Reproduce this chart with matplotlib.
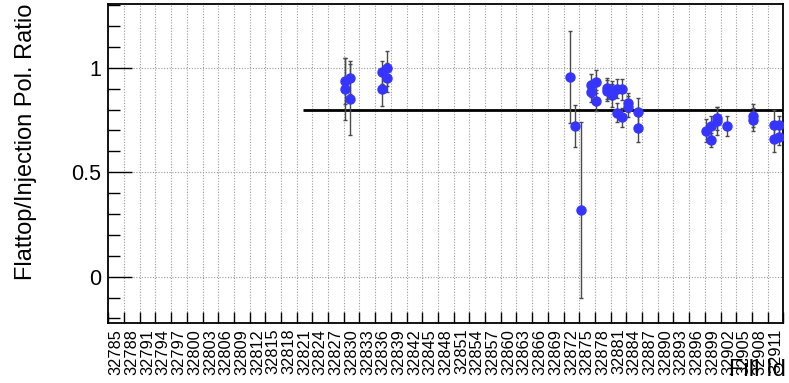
import numpy as np
import matplotlib
matplotlib.use("Agg")
import matplotlib.pyplot as plt

plt.rcParams['font.family'] = ['Liberation Sans', 'DejaVu Sans']

# fill numbers shown on the x axis (one label per bin of 3 fills)
fill_labels = list(range(32785, 32912, 3))

# measured ratio points
fills = [32829, 32829, 32830, 32830, 32836, 32836, 32837, 32837,
         32872, 32873, 32874, 32876, 32876, 32877, 32877, 32879, 32879,
         32880, 32880, 32881, 32881, 32882, 32882, 32883, 32883, 32885, 32885,
         32898, 32899, 32899, 32900, 32900, 32902, 32907, 32907,
         32911, 32911, 32912, 32912]
ratio = [0.938, 0.898, 0.952, 0.850, 0.979, 0.898, 0.997, 0.952,
         0.955, 0.721, 0.318, 0.917, 0.885, 0.932, 0.842, 0.901, 0.890,
         0.893, 0.869, 0.900, 0.785, 0.897, 0.763, 0.833, 0.813, 0.788, 0.710,
         0.699, 0.721, 0.654, 0.758, 0.745, 0.722, 0.769, 0.750,
         0.726, 0.657, 0.726, 0.670]
ratio_err = [0.11, 0.15, 0.08, 0.17, 0.055, 0.08, 0.085, 0.07,
             0.22, 0.10, 0.42, 0.055, 0.05, 0.055, 0.05, 0.05, 0.05,
             0.045, 0.055, 0.045, 0.045, 0.05, 0.045, 0.045, 0.05, 0.065, 0.065,
             0.055, 0.05, 0.035, 0.055, 0.065, 0.048, 0.055, 0.055,
             0.07, 0.06, 0.045, 0.04]

# average ratio line
avg_ratio = 0.80
avg_start = 32821

fig = plt.figure(figsize=(7.89, 3.83), dpi=100)
ax = fig.add_axes([0.1373, 0.1559, 0.8555, 0.8337])

x0 = fill_labels[0] - 1.25
edges = x0 + 3 * np.arange(len(fill_labels) + 1)
centers = edges[:-1] + 1.5
ax.set_xlim(edges[0], edges[-1])
ax.set_ylim(-0.223, 1.305)

# grid (ROOT style dotted)
for e in edges[1:-1]:
    ax.axvline(e, color='#9a9a9a', lw=0.8, ls=(0, (1, 1.5)), zorder=0)
for yv in [0, 0.5, 1]:
    ax.axhline(yv, color='#9a9a9a', lw=0.8, ls=(0, (1, 1.5)), zorder=0)

ax.hlines(avg_ratio, avg_start, edges[-1], color='black', lw=2, zorder=2)

ax.errorbar(fills, ratio, yerr=ratio_err, fmt='o', color='#3535ff',
            ms=6.5, mec='#3535ff', ecolor='#4a4a4a', elinewidth=1,
            capsize=1.6, capthick=1, zorder=3)

# x axis: ticks at bin edges, labels at bin centers
ax.set_xticks(edges)
ax.set_xticklabels([])
ax.set_xticks(centers, minor=True)
ax.set_xticklabels([str(f) for f in fill_labels], minor=True,
                   rotation=90, fontsize=11.8, va='top', ha='center')
ax.tick_params(axis='x', which='major', direction='in', length=8, width=1,
               top=False)
ax.tick_params(axis='x', which='minor', length=0, pad=4)

ax.set_yticks([0, 0.5, 1])
ax.set_yticklabels(['0', '0.5', '1'])
ax.set_yticks(np.arange(-0.2, 1.31, 0.1), minor=True)
ax.tick_params(axis='y', which='major', direction='in', length=17, width=1,
               labelsize=15.5, right=False, pad=5)
ax.tick_params(axis='y', which='minor', direction='in', length=8.5, width=1,
               right=False)

for s in ax.spines.values():
    s.set_linewidth(1.3)

fig.text(26 / 789, 0.99, 'Flattop/Injection Pol. Ratio', rotation=90,
         ha='center', va='top', fontsize=17)
fig.text(786 / 789, (383 - 359) / 383, 'Fill Id', ha='right', va='top',
         fontsize=17)

fig.savefig('out.png', dpi=100)
